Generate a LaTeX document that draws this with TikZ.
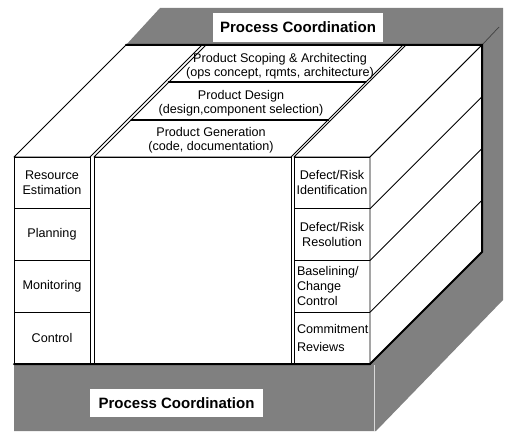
\documentclass[tikz,border=0pt]{standalone}
\usepackage{fontspec}
\setmainfont{Liberation Sans}
\usetikzlibrary{calc}
\definecolor{slab}{gray}{0.5}
\begin{document}
\begin{tikzpicture}[x=1bp,y=-1bp,
  face/.style={draw=black, line width=0.9bp, fill=white, line join=round},
  heavy/.style={line width=2bp, line cap=round},
  cell/.style={draw=black, line width=0.9bp, fill=white, minimum width=76bp,
    minimum height=51.75bp, inner sep=0pt, outer sep=0pt, align=center,
    font=\fontsize{12.6bp}{15bp}\selectfont},
  lefttext/.style={text width=70bp, align=left},
  strip/.style={inner sep=0pt, align=center, font=\fontsize{12.6bp}{14bp}\selectfont},
  coord/.style={fill=white, minimum height=28bp, inner sep=0pt,
    font=\bfseries\fontsize{15bp}{18bp}\selectfont}
]
\useasboundingbox (0,0) rectangle (506,434);
\fill[white] (0,0) rectangle (506,434);

% shaded back wall and base slab
\fill[slab] (126,45) -- (160,8) -- (503,8) -- (503,300) -- (376,431)
  -- (14,431) -- (14,364) -- (370,364) -- (482,252) -- (482,45) -- cycle;
\draw[white!70!slab, line width=0.6bp] (374,365) -- (374,431);
\draw[black!75, line width=0.7bp] (482,45) -- (499,27);

% front faces
\node[cell] (l1) at (52,182.875) {Resource\\Estimation};
\node[cell] (l2) at (52,234.625) {Planning};
\node[cell] (l3) at (52,286.375) {Monitoring};
\node[cell] (l4) at (52,338.125) {Control};
\node[cell, minimum width=197bp, minimum height=207bp] (core) at (192.5,260.5) {};
\node[cell] (r1) at (332,182.875) {Defect/Risk\\Identification};
\node[cell] (r2) at (332,234.625) {Defect/Risk\\Resolution};
\node[cell, lefttext] (r3) at (332,286.375) {Baselining/\\Change\\Control};
\node[cell, lefttext, font=\fontsize{12.6bp}{18bp}\selectfont] (r4) at (332,338.125) {Commitment\\Reviews};

% top faces of the three columns
\draw[face] (l1.north west) -- (l1.north east) -- ++(112,-112)
  -- ($(l1.north west)+(112,-112)$) -- cycle;
\draw[face] (core.north west) -- (core.north east) -- ++(112,-112)
  -- ($(core.north west)+(112,-112)$) -- cycle;
\draw[face] (r1.north west) -- (r1.north east) -- ++(112,-112)
  -- ($(r1.north west)+(112,-112)$) -- cycle;

% right side face with its row divisions
\draw[face] (r1.north east) -- ++(112,-112) -- ($(r4.south east)+(112,-112)$)
  -- (r4.south east) -- cycle;
\foreach \n in {r1,r2,r3}
  \draw[line width=0.9bp] (\n.south east) -- ++(112,-112);

% product strips on top of the centre block
\draw[heavy] ($(core.north west)+(37.33,-37.33)$) -- ($(core.north east)+(37.33,-37.33)$);
\draw[heavy] ($(core.north west)+(74.67,-74.67)$) -- ($(core.north east)+(74.67,-74.67)$);
\node[strip] (scope) at (280,66) {Product Scoping \& Architecting\\(ops concept, rqmts, architecture)};
\node[strip] (design) at (241,103) {Product Design\\(design,component selection)};
\node[strip] (gen) at (211,140) {Product Generation\\(code, documentation)};

% edges where the block meets the shaded wall and slab
\draw[heavy] ($(l1.north west)+(112,-112)$) -- ($(r1.north east)+(112,-112)$)
  -- ($(r4.south east)+(112,-112)$) -- (r4.south east) -- (l4.south west);

% coordination labels
\node[coord, minimum width=170bp, minimum height=29bp] (pctop) at (298,27.5) {Process Coordination};
\node[coord, minimum width=173bp] (pcbot) at (176.5,403) {Process Coordination};
\end{tikzpicture}
\end{document}
